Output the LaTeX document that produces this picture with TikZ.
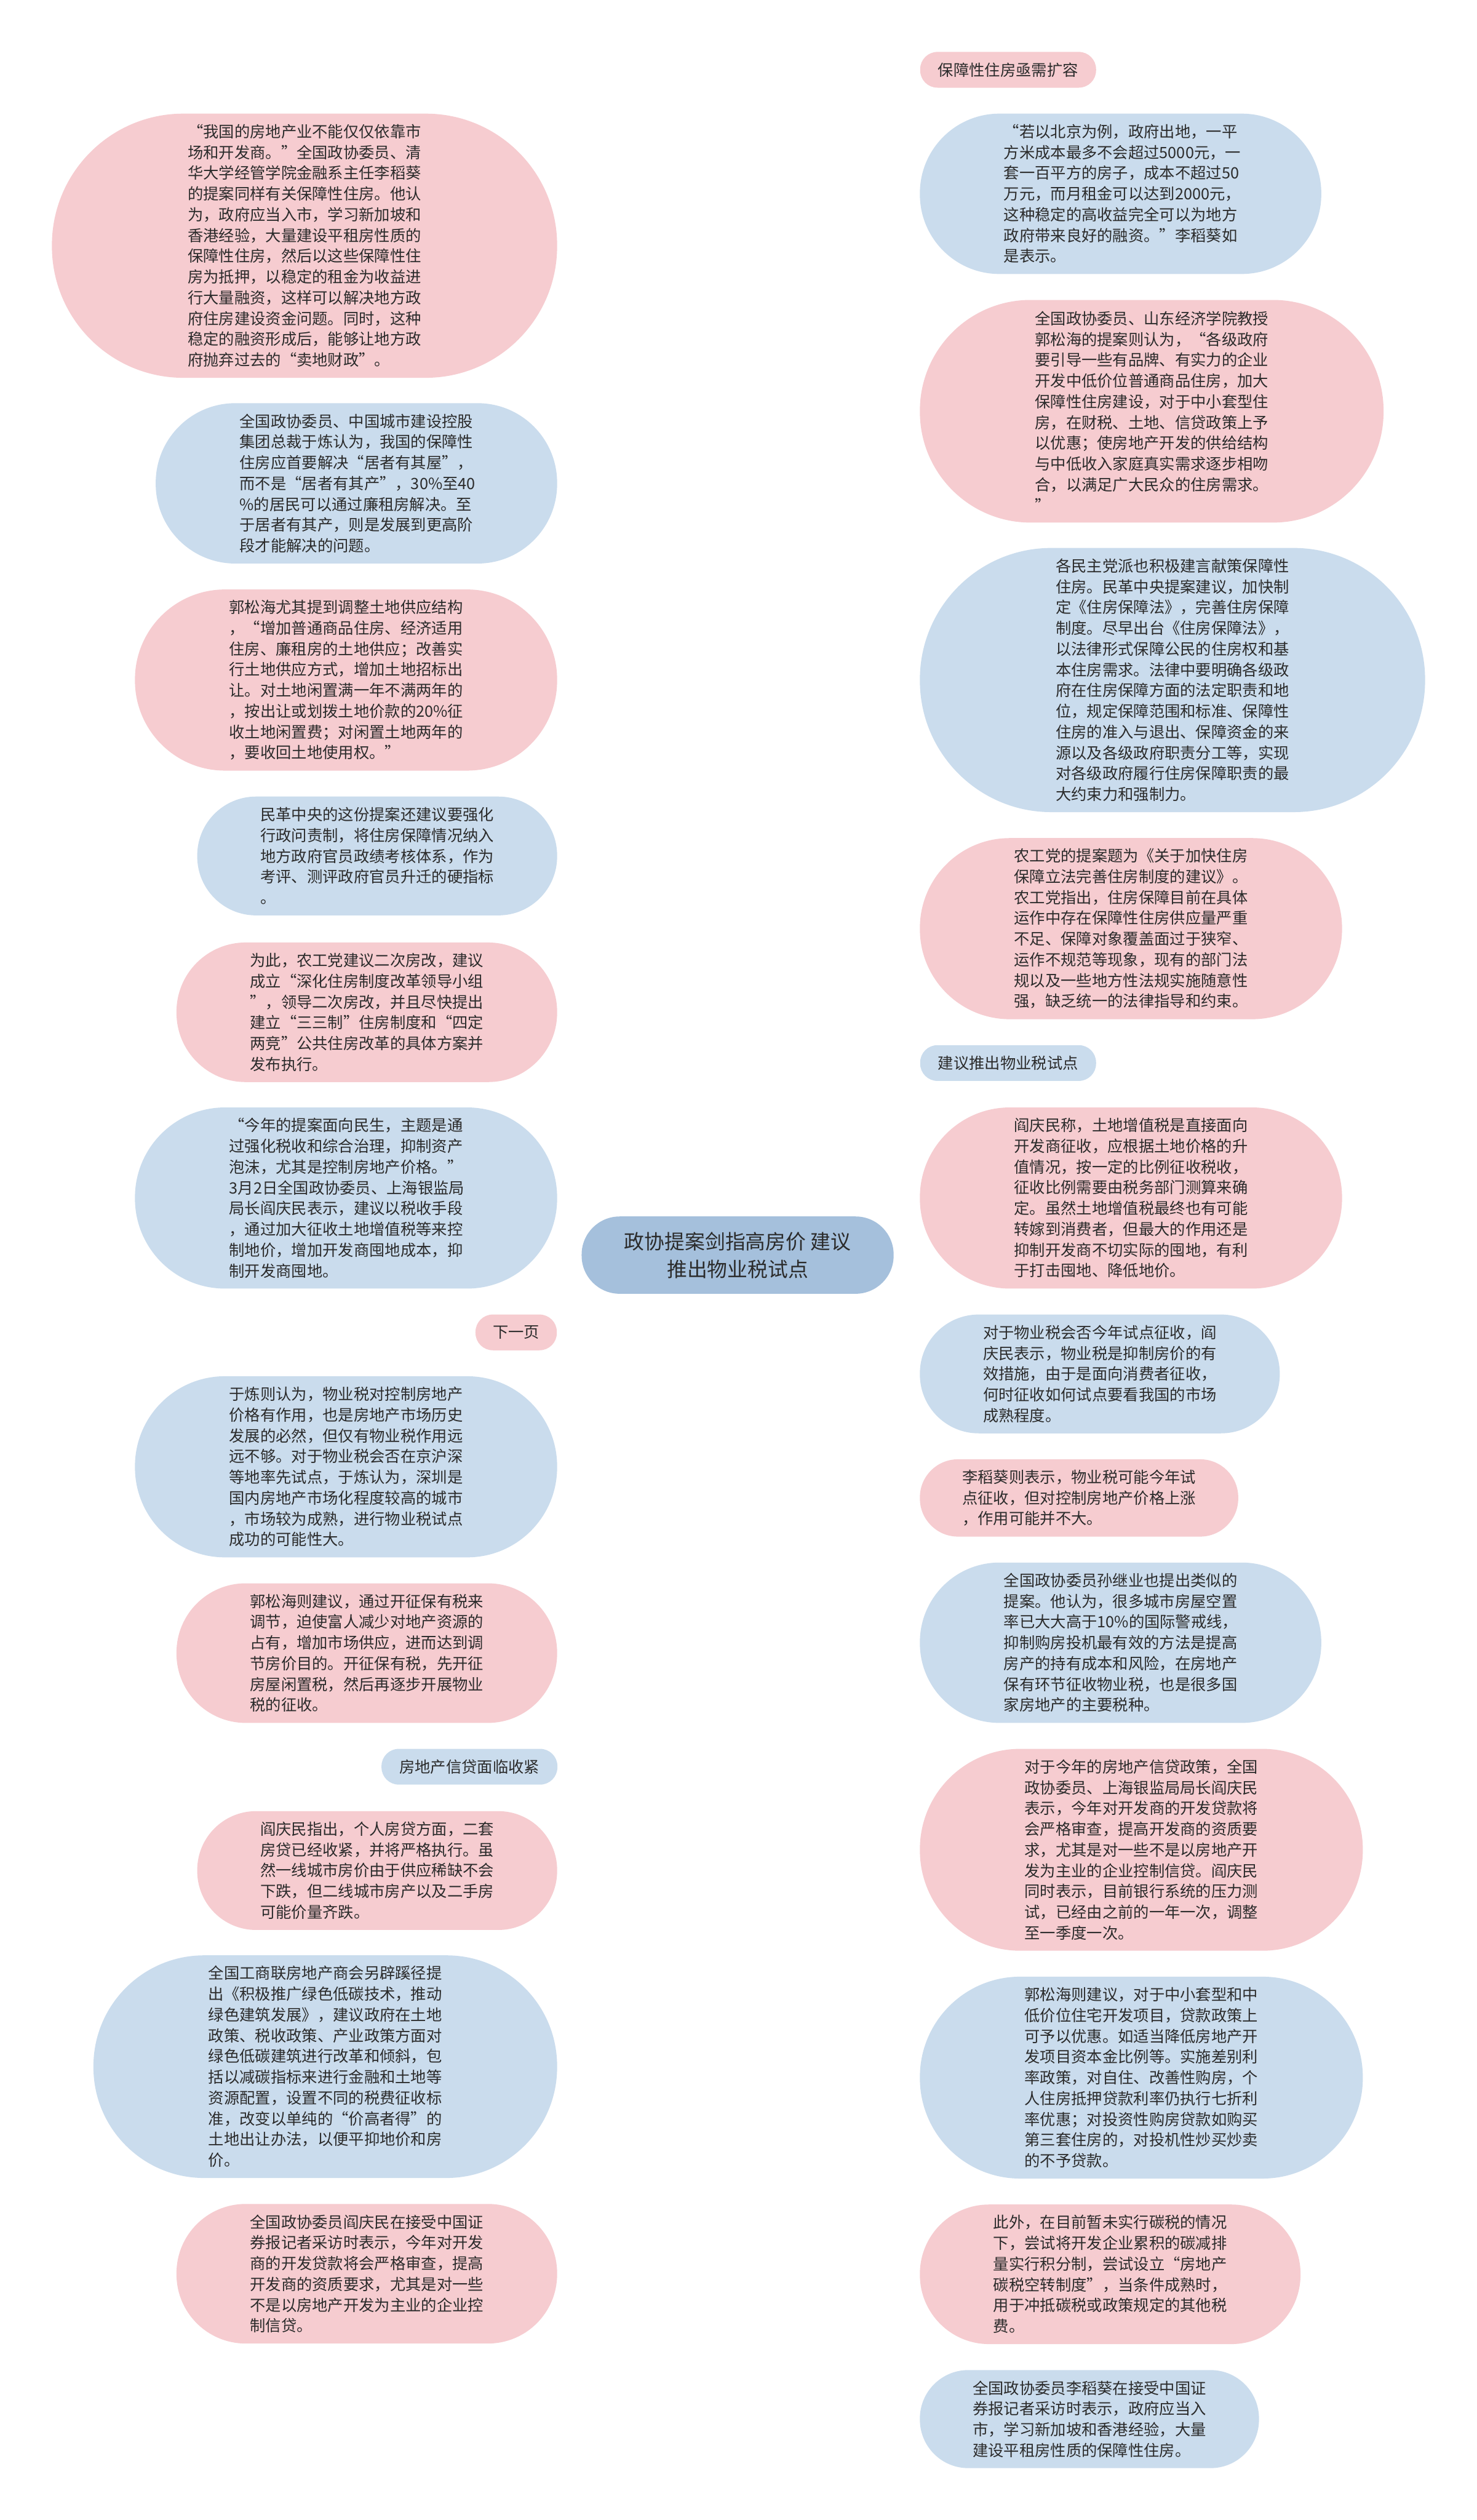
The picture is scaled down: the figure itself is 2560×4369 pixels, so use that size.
\documentclass[tikz,border=0pt]{standalone}
\usepackage{fontspec}
\newfontfamily\cjk{Noto Sans CJK SC}
\usetikzlibrary{calc}
\pgfdeclarelayer{bg}
\pgfsetlayers{bg,main}
\definecolor{pk}{HTML}{F6CCD0}
\definecolor{bl}{HTML}{CADCED}
\definecolor{pkl}{HTML}{F0B9BF}
\definecolor{bll}{HTML}{B7CDE4}
\definecolor{cenc}{HTML}{A5C0DC}
\definecolor{txt}{HTML}{2B2B2B}
\tikzset{
  bub/.style={text=txt, inner sep=0pt, text width=405pt, align=left,
    font=\cjk\fontsize{27}{36}\selectfont},
  pkb/.style={bub, fill=pk},
  blb/.style={bub, fill=bl},
  lab/.style={text=txt, inner sep=0pt, minimum height=62pt, rounded corners=30pt,
    font=\cjk\fontsize{27}{36}\selectfont},
  pkc/.style={draw=pkl, line width=2.5pt},
  blc/.style={draw=bll, line width=2.5pt},
}
\newcommand\cn[2]{\draw[#2] let \p1=(cen.center), \p2=(#1) in (\p1) .. controls ({0.5*\x1+0.5*\x2},\y1) and ({0.5*\x1+0.5*\x2},\y2) .. (\p2);}
\begin{document}
\begin{tikzpicture}[x=1pt,y=-1pt]
\useasboundingbox (0,0) rectangle (2560,4369);
\fill[white] (0,0) rectangle (2560,4369);

\node[fill=cenc, text=txt, minimum width=541, minimum height=134, rounded corners=66, align=center,
  font=\cjk\fontsize{35}{48}\selectfont] (cen) at (1279,2176) {政协提案剑指高房价 建议\\推出物业税试点};

% left column
\node[pkb, minimum width=876, minimum height=458, rounded corners=228] (l1) at (528,426) {%
“我国的房地产业不能仅仅依靠市\\场和开发商。”全国政协委员、清\\华大学经管学院金融系主任李稻葵\\的提案同样有关保障性住房。他认\\为，政府应当入市，学习新加坡和\\香港经验，大量建设平租房性质的\\保障性住房，然后以这些保障性住\\房为抵押，以稳定的租金为收益进\\行大量融资，这样可以解决地方政\\府住房建设资金问题。同时，这种\\稳定的融资形成后，能够让地方政\\府抛弃过去的“卖地财政”。};
\node[blb, minimum width=696, minimum height=278, rounded corners=138] (l2) at (618,838) {%
全国政协委员、中国城市建设控股\\集团总裁于炼认为，我国的保障性\\住房应首要解决“居者有其屋”，\\而不是“居者有其产”，30\%至40\\\%的居民可以通过廉租房解决。至\\于居者有其产，则是发展到更高阶\\段才能解决的问题。};
\node[pkb, minimum width=732, minimum height=314, rounded corners=156] (l3) at (600,1179) {%
郭松海尤其提到调整土地供应结构\\，“增加普通商品住房、经济适用\\住房、廉租房的土地供应；改善实\\行土地供应方式，增加土地招标出\\让。对土地闲置满一年不满两年的\\，按出让或划拨土地价款的20\%征\\收土地闲置费；对闲置土地两年的\\，要收回土地使用权。”};
\node[blb, minimum width=624, minimum height=206, rounded corners=102] (l4) at (654,1484) {%
民革中央的这份提案还建议要强化\\行政问责制，将住房保障情况纳入\\地方政府官员政绩考核体系，作为\\考评、测评政府官员升迁的硬指标\\。};
\node[pkb, minimum width=660, minimum height=242, rounded corners=120] (l5) at (636,1755) {%
为此，农工党建议二次房改，建议\\成立“深化住房制度改革领导小组\\”，领导二次房改，并且尽快提出\\建立“三三制”住房制度和“四定\\两竞”公共住房改革的具体方案并\\发布执行。};
\node[blb, minimum width=732, minimum height=314, rounded corners=156] (l6) at (600,2077) {%
“今年的提案面向民生，主题是通\\过强化税收和综合治理，抑制资产\\泡沫，尤其是控制房地产价格。”\\3月2日全国政协委员、上海银监局\\局长阎庆民表示，建议以税收手段\\，通过加大征收土地增值税等来控\\制地价，增加开发商囤地成本，抑\\制开发商囤地。};
\node[lab, fill=pk, minimum width=141] (l7) at (895,2310) {下一页};
\node[blb, minimum width=732, minimum height=314, rounded corners=156] (l8) at (600,2543) {%
于炼则认为，物业税对控制房地产\\价格有作用，也是房地产市场历史\\发展的必然，但仅有物业税作用远\\远不够。对于物业税会否在京沪深\\等地率先试点，于炼认为，深圳是\\国内房地产市场化程度较高的城市\\，市场较为成熟，进行物业税试点\\成功的可能性大。};
\node[pkb, minimum width=660, minimum height=242, rounded corners=120] (l9) at (636,2866) {%
郭松海则建议，通过开征保有税来\\调节，迫使富人减少对地产资源的\\占有，增加市场供应，进而达到调\\节房价目的。开征保有税，先开征\\房屋闲置税，然后再逐步开展物业\\税的征收。};
\node[lab, fill=bl, minimum width=305] (l10) at (814,3063) {房地产信贷面临收紧};
\node[pkb, minimum width=624, minimum height=206, rounded corners=102] (l11) at (654,3243) {%
阎庆民指出，个人房贷方面，二套\\房贷已经收紧，并将严格执行。虽\\然一线城市房价由于供应稀缺不会\\下跌，但二线城市房产以及二手房\\可能价量齐跌。};
\node[blb, minimum width=804, minimum height=386, rounded corners=192] (l12) at (564,3583) {%
全国工商联房地产商会另辟蹊径提\\出《积极推广绿色低碳技术，推动\\绿色建筑发展》，建议政府在土地\\政策、税收政策、产业政策方面对\\绿色低碳建筑进行改革和倾斜，包\\括以减碳指标来进行金融和土地等\\资源配置，设置不同的税费征收标\\准，改变以单纯的“价高者得”的\\土地出让办法，以便平抑地价和房\\价。};
\node[pkb, minimum width=660, minimum height=242, rounded corners=120] (l13) at (636,3942) {%
全国政协委员阎庆民在接受中国证\\券报记者采访时表示，今年对开发\\商的开发贷款将会严格审查，提高\\开发商的资质要求，尤其是对一些\\不是以房地产开发为主业的企业控\\制信贷。};

% right column
\node[lab, fill=pk, minimum width=305] (r0) at (1748,121) {保障性住房亟需扩容};
\node[blb, minimum width=696, minimum height=278, rounded corners=138] (r1) at (1943,336) {%
“若以北京为例，政府出地，一平\\方米成本最多不会超过5000元，一\\套一百平方的房子，成本不超过50\\万元，而月租金可以达到2000元，\\这种稳定的高收益完全可以为地方\\政府带来良好的融资。”李稻葵如\\是表示。};
\node[pkb, minimum width=804, minimum height=386, rounded corners=192] (r2) at (1997,713) {%
全国政协委员、山东经济学院教授\\郭松海的提案则认为，“各级政府\\要引导一些有品牌、有实力的企业\\开发中低价位普通商品住房，加大\\保障性住房建设，对于中小套型住\\房，在财税、土地、信贷政策上予\\以优惠；使房地产开发的供给结构\\与中低收入家庭真实需求逐步相吻\\合，以满足广大民众的住房需求。\\”};
\node[blb, minimum width=876, minimum height=458, rounded corners=228] (r3) at (2033,1179) {%
各民主党派也积极建言献策保障性\\住房。民革中央提案建议，加快制\\定《住房保障法》，完善住房保障\\制度。尽早出台《住房保障法》，\\以法律形式保障公民的住房权和基\\本住房需求。法律中要明确各级政\\府在住房保障方面的法定职责和地\\位，规定保障范围和标准、保障性\\住房的准入与退出、保障资金的来\\源以及各级政府职责分工等，实现\\对各级政府履行住房保障职责的最\\大约束力和强制力。};
\node[pkb, minimum width=732, minimum height=314, rounded corners=156] (r4) at (1961,1610) {%
农工党的提案题为《关于加快住房\\保障立法完善住房制度的建议》。\\农工党指出，住房保障目前在具体\\运作中存在保障性住房供应量严重\\不足、保障对象覆盖面过于狭窄、\\运作不规范等现象，现有的部门法\\规以及一些地方性法规实施随意性\\强，缺乏统一的法律指导和约束。};
\node[lab, fill=bl, minimum width=305] (r5) at (1748,1843) {建议推出物业税试点};
\node[pkb, minimum width=732, minimum height=314, rounded corners=156] (r6) at (1961,2077) {%
阎庆民称，土地增值税是直接面向\\开发商征收，应根据土地价格的升\\值情况，按一定的比例征收税收，\\征收比例需要由税务部门测算来确\\定。虽然土地增值税最终也有可能\\转嫁到消费者，但最大的作用还是\\抑制开发商不切实际的囤地，有利\\于打击囤地、降低地价。};
\node[blb, minimum width=624, minimum height=206, rounded corners=102] (r7) at (1907,2382) {%
对于物业税会否今年试点征收，阎\\庆民表示，物业税是抑制房价的有\\效措施，由于是面向消费者征收，\\何时征收如何试点要看我国的市场\\成熟程度。};
\node[pkb, minimum width=552, minimum height=134, rounded corners=66] (r8) at (1871,2597) {%
李稻葵则表示，物业税可能今年试\\点征收，但对控制房地产价格上涨\\，作用可能并不大。};
\node[blb, minimum width=696, minimum height=278, rounded corners=138] (r9) at (1943,2848) {%
全国政协委员孙继业也提出类似的\\提案。他认为，很多城市房屋空置\\率已大大高于10\%的国际警戒线，\\抑制购房投机最有效的方法是提高\\房产的持有成本和风险，在房地产\\保有环节征收物业税，也是很多国\\家房地产的主要税种。};
\node[pkb, minimum width=768, minimum height=350, rounded corners=174] (r10) at (1979,3207) {%
对于今年的房地产信贷政策，全国\\政协委员、上海银监局局长阎庆民\\表示，今年对开发商的开发贷款将\\会严格审查，提高开发商的资质要\\求，尤其是对一些不是以房地产开\\发为主业的企业控制信贷。阎庆民\\同时表示，目前银行系统的压力测\\试，已经由之前的一年一次，调整\\至一季度一次。};
\node[blb, minimum width=768, minimum height=350, rounded corners=174] (r11) at (1979,3602) {%
郭松海则建议，对于中小套型和中\\低价位住宅开发项目，贷款政策上\\可予以优惠。如适当降低房地产开\\发项目资本金比例等。实施差别利\\率政策，对自住、改善性购房，个\\人住房抵押贷款利率仍执行七折利\\率优惠；对投资性购房贷款如购买\\第三套住房的，对投机性炒买炒卖\\的不予贷款。};
\node[pkb, minimum width=660, minimum height=242, rounded corners=120] (r12) at (1925,3943) {%
此外，在目前暂未实行碳税的情况\\下，尝试将开发企业累积的碳减排\\量实行积分制，尝试设立“房地产\\碳税空转制度”，当条件成熟时，\\用于冲抵碳税或政策规定的其他税\\费。};
\node[blb, minimum width=588, minimum height=170, rounded corners=84] (r13) at (1889,4194) {%
全国政协委员李稻葵在接受中国证\\券报记者采访时表示，政府应当入\\市，学习新加坡和香港经验，大量\\建设平租房性质的保障性住房。};

\begin{pgfonlayer}{bg}
\cn{l1.east}{pkc}\cn{l2.east}{blc}\cn{l3.east}{pkc}\cn{l4.east}{blc}\cn{l5.east}{pkc}
\cn{l6.east}{blc}\cn{l7.east}{pkc}\cn{l8.east}{blc}\cn{l9.east}{pkc}\cn{l10.east}{blc}
\cn{l11.east}{pkc}\cn{l12.east}{blc}\cn{l13.east}{pkc}
\cn{r0.west}{pkc}\cn{r1.west}{blc}\cn{r2.west}{pkc}\cn{r3.west}{blc}\cn{r4.west}{pkc}
\cn{r5.west}{blc}\cn{r6.west}{pkc}\cn{r7.west}{blc}\cn{r8.west}{pkc}\cn{r9.west}{blc}
\cn{r10.west}{pkc}\cn{r11.west}{blc}\cn{r12.west}{pkc}\cn{r13.west}{blc}
\end{pgfonlayer}
\end{tikzpicture}
\end{document}
